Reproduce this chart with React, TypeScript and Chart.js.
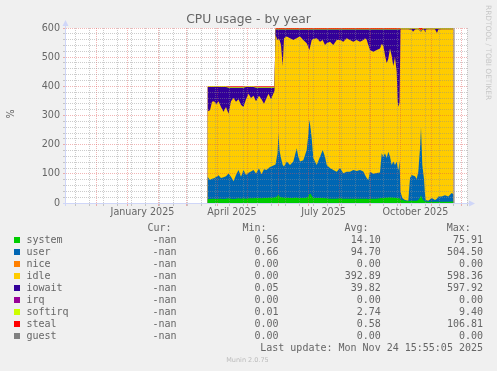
import React, { useEffect, useRef } from "react";
import { Chart, registerables } from "chart.js";
Chart.register(...registerables);

// x values: days since 1 Nov 2024 (plot spans 400 days)
const days = [
  141.5, 144, 146, 148, 150.5, 152.5, 155, 157.5, 160, 162.5, 165, 167.5, 170, 172.5, 175, 177.5, 180, 182.5, 185, 187.5, 190, 193, 195.5, 198, 200.5, 202.5, 205, 208.5,
  209.5, 211.5, 212.5, 213.5, 215, 216.7, 218, 220.7, 224, 227.3, 229, 230.7, 232.3, 234, 237.3, 240.7, 242.3, 243.3, 244.5, 245.7, 247.3, 250.7, 254, 256.7, 259, 260.7, 264, 267.3, 270.7, 274, 277.3, 280.7, 284, 287.3, 290.7, 294, 297.3, 299, 300.7, 302.3, 304, 307.3, 310.7, 314, 315.7, 317.3, 319, 320.7, 322.3, 324, 325.7, 327.3, 329, 330.7, 331.7, 332.5, 333.5,
  334.5, 336.3, 339, 342.3, 344, 345.7, 347, 349, 350.7, 352.3, 354, 355, 356.3, 358, 359, 359.7, 362.3, 365.7, 369, 371, 372.3, 375.7, 379, 382.3, 385.7, 387.5,
];

const systemVals = [
  14, 14, 15, 15, 14, 15, 15, 14, 15, 16, 15, 14, 15, 16, 15, 16, 15, 16, 16, 16, 17, 17, 16, 17, 17, 18, 18, 19,
  20, 24, 28, 22, 20, 19, 18, 18, 17, 17, 18, 18, 17, 17, 17, 18, 22, 30, 33, 25, 18, 17, 17, 17, 16, 16, 15, 15, 15, 16, 15, 15, 15, 15, 15, 15, 15, 15, 15, 14, 15, 15, 15, 16, 17, 17, 18, 18, 19, 19, 19, 18, 18, 17, 17, 16, 16,
  12, 10, 8, 6, 8, 8, 8, 8, 8, 10, 18, 27, 15, 8, 6, 5, 4, 4, 4, 4, 4, 4, 4, 4, 5, 5,
];

const userVals = [
  76, 65, 68, 70, 76, 80, 71, 74, 77, 85, 75, 61, 81, 97, 75, 97, 81, 88, 92, 97, 84, 101, 83, 99, 96, 102, 107, 111,
  112, 146, 212, 158, 134, 111, 107, 124, 113, 125, 147, 170, 142, 125, 130, 164, 211, 255, 227, 197, 136, 113, 142, 165, 143, 114, 105, 98, 92, 104, 87, 92, 92, 98, 95, 98, 93, 81, 71, 65, 92, 85, 88, 89, 154, 142, 153, 136, 157, 140, 111, 124, 112, 125, 103, 97, 131,
  27, 7, 2, 2, 78, 88, 86, 84, 74, 97, 170, 233, 115, 74, 24, 5, 4, 13, 6, 11, 18, 18, 23, 18, 29, 25,
];

const idleVals = [
  225, 239, 264, 264, 248, 254, 243, 225, 237, 205, 259, 285, 251, 243, 247, 216, 260, 271, 252, 255, 248, 250, 257, 224, 247, 255, 231, 255,
  444, 389, 322, 380, 388, 340, 440, 429, 435, 417, 397, 377, 409, 429, 412, 366, 302, 240, 280, 337, 408, 435, 394, 377, 383, 418, 433, 429, 452, 439, 451, 458, 452, 440, 449, 440, 451, 469, 474, 463, 418, 419, 422, 425, 374, 381, 336, 325, 319, 371, 375, 328, 370, 308, 227, 217, 198,
  556.5, 578.5, 585.5, 587.5, 508.5, 498.5, 493.5, 502.5, 513.5, 488.5, 402.5, 327.5, 463.5, 513.5, 557.5, 584.5, 587.5, 578.5, 585.5, 567.5, 572.5, 573.5, 568.5, 573.5, 561.5, 565.5,
];

const iowaitVals = [
  82.5, 79.5, 50.5, 48.5, 59.5, 48.5, 68.5, 84.5, 68.5, 89.5, 46.5, 35.5, 48.5, 39.5, 58.5, 66.5, 41.5, 22.5, 37.5, 29.5, 46.5, 27.5, 39.5, 55.5, 35.5, 20.5, 39.5, 10.5,
  19, 36, 33, 35, 53, 125, 30, 24, 30, 36, 33, 30, 27, 24, 36, 47, 60, 70, 55, 36, 33, 30, 42, 36, 53, 47, 42, 53, 36, 36, 42, 30, 36, 42, 36, 42, 36, 30, 35, 53, 70, 76, 70, 65, 50, 55, 88, 116, 100, 65, 90, 125, 95, 145, 248, 265, 250,
  2, 2, 2, 2, 3, 3, 10, 3, 2, 2, 2, 2, 2, 2, 10, 3, 2, 2, 2, 15, 3, 2, 2, 2, 2, 2,
];

const softirqVals = [
  2.5, 2.5, 2.5, 2.5, 2.5, 2.5, 2.5, 2.5, 2.5, 2.5, 2.5, 2.5, 2.5, 2.5, 2.5, 2.5, 2.5, 2.5, 2.5, 2.5, 2.5, 2.5, 2.5, 2.5, 2.5, 2.5, 2.5, 2.5,
  2.5, 2.5, 2.5, 2.5, 2.5, 2.5, 2.5, 2.5, 2.5, 2.5, 2.5, 2.5, 2.5, 2.5, 2.5, 2.5, 2.5, 2.5, 2.5, 2.5, 2.5, 2.5, 2.5, 2.5, 2.5, 2.5, 2.5, 2.5, 2.5, 2.5, 2.5, 2.5, 2.5, 2.5, 2.5, 2.5, 2.5, 2.5, 2.5, 2.5, 2.5, 2.5, 2.5, 2.5, 2.5, 2.5, 2.5, 2.5, 2.5, 2.5, 2.5, 2.5, 2.5, 2.5, 2.5, 2.5, 2.5,
  2.5, 2.5, 2.5, 2.5, 2.5, 2.5, 2.5, 2.5, 2.5, 2.5, 2.5, 2.5, 2.5, 2.5, 2.5, 2.5, 2.5, 2.5, 2.5, 2.5, 2.5, 2.5, 2.5, 2.5, 2.5, 2.5,
];

const stealVals = [
  0, 0, 0, 0, 0, 0, 0, 0, 0, 2, 2, 2, 2, 2, 2, 2, 0, 0, 0, 0, 2, 2, 2, 2, 2, 2, 2, 2,
  2.5, 2.5, 2.5, 2.5, 2.5, 2.5, 2.5, 2.5, 2.5, 2.5, 2.5, 2.5, 2.5, 2.5, 2.5, 2.5, 2.5, 2.5, 2.5, 2.5, 2.5, 2.5, 2.5, 2.5, 2.5, 2.5, 2.5, 2.5, 2.5, 2.5, 2.5, 2.5, 2.5, 2.5, 2.5, 2.5, 2.5, 2.5, 2.5, 2.5, 2.5, 2.5, 2.5, 2.5, 2.5, 2.5, 2.5, 2.5, 2.5, 2.5, 2.5, 2.5, 2.5, 2.5, 2.5, 2.5, 2.5,
  0, 0, 0, 0, 0, 0, 0, 0, 0, 0, 5, 8, 2, 0, 0, 0, 0, 0, 0, 0, 0, 0, 0, 0, 0, 0,
];

// last data point (24 Nov 2025)
const lastDataDay = 388;

// x-axis grid / labels (days since 1 Nov 2024)
const xMonthTicks = [30, 61, 92, 120, 151, 181, 212, 242, 273, 304, 334, 365, 395];
const xMinorTicks = [9, 23, 37, 51, 65, 79, 93, 107, 121, 135, 149, 163, 177, 191, 205, 219, 233, 247, 261, 275, 289, 303, 317, 331, 345, 359, 373, 387, 401];
const xLabelTicks = [76.5, 166, 257.5, 349.5];
const xLabels = ["January 2025", "April 2025", "July 2025", "October 2025"];

// legend table
const legendNames = ["system", "user", "nice", "idle", "iowait", "irq", "softirq", "steal", "guest"];
const legendColors = ["#00CC00", "#0066B3", "#FF8000", "#FFCC00", "#330099", "#990099", "#CCFF00", "#FF0000", "#808080"];
const curVals = ["-nan", "-nan", "-nan", "-nan", "-nan", "-nan", "-nan", "-nan", "-nan"];
const minVals = ["0.56", "0.66", "0.00", "0.00", "0.05", "0.00", "0.01", "0.00", "0.00"];
const avgVals = ["14.10", "94.70", "0.00", "392.89", "39.82", "0.00", "2.74", "0.58", "0.00"];
const maxVals = ["75.91", "504.50", "0.00", "598.36", "597.92", "0.00", "9.40", "106.81", "0.00"];

const TITLE = "CPU usage - by year";
const Y_TITLE = "%";
const LAST_UPDATE = "Last update: Mon Nov 24 15:55:05 2025";
const FOOTER = "Munin 2.0.75";
const WATERMARK = "RRDTOOL / TOBI OETIKER";

const FONT_COLOR = "#666666";
const AXIS_COLOR = "#CFD6F8";
const GRID = "rgba(143,143,143,0.45)";
const MGRID = "rgba(222,79,79,0.42)";

function series(vals: number[]) {
  return days.map((d, i) => ({ x: d, y: vals[i] }));
}

const plotted = [
  { label: "system", vals: systemVals, color: "#00CC00" },
  { label: "user", vals: userVals, color: "#0066B3" },
  { label: "idle", vals: idleVals, color: "#FFCC00" },
  { label: "iowait", vals: iowaitVals, color: "#330099" },
  { label: "softirq", vals: softirqVals, color: "#CCFF00" },
  { label: "steal", vals: stealVals, color: "#FF0000" },
];

const decorPlugin = {
  id: "decor",
  beforeDraw(chart: any) {
    const { ctx, chartArea: a } = chart;
    ctx.save();
    ctx.fillStyle = "#F0F0F0";
    ctx.fillRect(0, 0, chart.width, chart.height);
    ctx.fillStyle = "#FFFFFF";
    ctx.fillRect(a.left, a.top, a.right - a.left, a.bottom - a.top);
    ctx.restore();
  },
  afterDraw(chart: any) {
    const { ctx, chartArea: a } = chart;
    const xs = chart.scales.x;
    ctx.save();
    // data end marker
    const xe = Math.round(xs.getPixelForValue(lastDataDay)) + 0.5;
    ctx.strokeStyle = "rgba(160,160,160,0.7)";
    ctx.lineWidth = 1;
    ctx.beginPath();
    ctx.moveTo(xe, a.top);
    ctx.lineTo(xe, a.bottom);
    ctx.stroke();

    // axes
    ctx.strokeStyle = AXIS_COLOR;
    ctx.fillStyle = AXIS_COLOR;
    ctx.beginPath();
    ctx.moveTo(a.left - 3, a.bottom + 0.5);
    ctx.lineTo(a.right + 3, a.bottom + 0.5);
    ctx.moveTo(a.left - 0.5, a.bottom + 3);
    ctx.lineTo(a.left - 0.5, a.top - 3);
    ctx.stroke();
    ctx.beginPath();
    ctx.moveTo(a.right + 2, a.bottom - 2.5);
    ctx.lineTo(a.right + 8, a.bottom + 0.5);
    ctx.lineTo(a.right + 2, a.bottom + 3.5);
    ctx.closePath();
    ctx.fill();
    ctx.beginPath();
    ctx.moveTo(a.left - 3.5, a.top - 2);
    ctx.lineTo(a.left - 0.5, a.top - 8);
    ctx.lineTo(a.left + 2.5, a.top - 2);
    ctx.closePath();
    ctx.fill();

    // title
    ctx.fillStyle = FONT_COLOR;
    ctx.font = "12.3px 'DejaVu Sans'";
    ctx.textAlign = "center";
    ctx.textBaseline = "middle";
    ctx.fillText(TITLE, 248.5, 19.5);

    // y title
    ctx.save();
    ctx.translate(11, 114);
    ctx.rotate(-Math.PI / 2);
    ctx.font = "9.6px 'DejaVu Sans'";
    ctx.fillText(Y_TITLE, 0, 0);
    ctx.restore();

    // watermark
    ctx.save();
    ctx.translate(487.5, 5);
    ctx.rotate(Math.PI / 2);
    ctx.fillStyle = "rgba(102,102,102,0.3)";
    ctx.font = "7.4px 'DejaVu Sans'";
    ctx.textAlign = "left";
    ctx.textBaseline = "middle";
    ctx.fillText(WATERMARK, 0, 0);
    ctx.restore();

    // legend
    ctx.font = "10px 'DejaVu Sans Mono'";
    ctx.textBaseline = "middle";
    ctx.fillStyle = FONT_COLOR;
    ctx.textAlign = "right";
    const hy = 228;
    ctx.fillText("Cur:", 171.5, hy);
    ctx.fillText("Min:", 266.5, hy);
    ctx.fillText("Avg:", 368.5, hy);
    ctx.fillText("Max:", 470.8, hy);
    for (let i = 0; i < legendNames.length; i++) {
      const y = 240 + 12 * i;
      ctx.fillStyle = legendColors[i];
      ctx.fillRect(14, y - 3, 6, 6);
      ctx.fillStyle = FONT_COLOR;
      ctx.textAlign = "left";
      ctx.fillText(legendNames[i], 26.5, y);
      ctx.textAlign = "right";
      ctx.fillText(curVals[i], 176.5, y);
      ctx.fillText(minVals[i], 278.5, y);
      ctx.fillText(avgVals[i], 380.8, y);
      ctx.fillText(maxVals[i], 483, y);
    }
    ctx.textAlign = "right";
    ctx.fillText(LAST_UPDATE, 483, 348);

    ctx.fillStyle = "#BBBBBB";
    ctx.font = "6.5px 'DejaVu Sans'";
    ctx.textAlign = "center";
    ctx.fillText(FOOTER, 247.5, 360);
    ctx.restore();
  },
};

export default function App() {
  const ref = useRef<HTMLCanvasElement>(null);
  useEffect(() => {
    const canvas = ref.current!;
    const chart = new Chart(canvas, {
      type: "line",
      data: {
        datasets: plotted.map((p) => ({
          label: p.label,
          data: series(p.vals),
          backgroundColor: p.color,
          borderColor: p.color,
          borderWidth: 0,
          pointRadius: 0,
          fill: "origin",
          tension: 0,
        })),
      },
      options: {
        responsive: false,
        animation: false,
        devicePixelRatio: 1,
        events: [],
        layout: { padding: { left: 0, right: 30, top: 28, bottom: 148 } },
        plugins: { legend: { display: false }, title: { display: false }, tooltip: { enabled: false } },
        scales: {
          x: {
            type: "linear",
            min: 0,
            max: 401,
            afterFit: (s: any) => {
              s.height = 20;
            },
            afterBuildTicks: (s: any) => {
              const t: any[] = [];
              xMinorTicks.forEach((v) => t.push({ value: v, kind: "minor" }));
              xMonthTicks.forEach((v) => t.push({ value: v, kind: "major" }));
              xLabelTicks.forEach((v, i) => t.push({ value: v, kind: "label", text: xLabels[i] }));
              t.sort((p, q) => p.value - q.value);
              s.ticks = t;
            },
            grid: {
              z: 1,
              color: (c: any) => (c.tick && c.tick.kind === "major" ? MGRID : c.tick && c.tick.kind === "minor" ? GRID : "rgba(0,0,0,0)"),
              tickColor: (c: any) => (c.tick && c.tick.kind === "major" ? MGRID : c.tick && c.tick.kind === "minor" ? GRID : "rgba(0,0,0,0)"),
              tickLength: 3,
              lineWidth: 1,
            },
            border: { display: false, dash: [1, 1] },
            ticks: {
              autoSkip: false,
              maxRotation: 0,
              padding: 1,
              color: FONT_COLOR,
              font: { family: "DejaVu Sans", size: 9.6 },
              callback: (_v: any, i: number, ticks: any[]) => (ticks[i] && ticks[i].kind === "label" ? ticks[i].text : ""),
            },
          },
          y: {
            type: "linear",
            stacked: true,
            min: 0,
            max: 600,
            afterFit: (s: any) => {
              s.width = 66;
            },
            grid: {
              z: 1,
              color: (c: any) => (c.tick && c.tick.value % 100 === 0 ? MGRID : GRID),
              tickColor: (c: any) => (c.tick && c.tick.value % 100 === 0 ? MGRID : GRID),
              tickLength: 3,
              lineWidth: 1,
            },
            border: { display: false, dash: [1, 1] },
            ticks: {
              stepSize: 20,
              autoSkip: false,
              padding: 3,
              color: FONT_COLOR,
              font: { family: "DejaVu Sans", size: 9.6 },
              callback: (v: any) => (v % 100 === 0 ? String(v) : ""),
            },
          },
        },
      } as any,
      plugins: [decorPlugin],
    });
    return () => chart.destroy();
  }, []);
  return (
    <div style={{ position: "absolute", left: 0, top: 0, width: 497, height: 371, background: "#F0F0F0" }}>
      <canvas ref={ref} width={497} height={371} style={{ display: "block", width: 497, height: 371 }} />
    </div>
  );
}
